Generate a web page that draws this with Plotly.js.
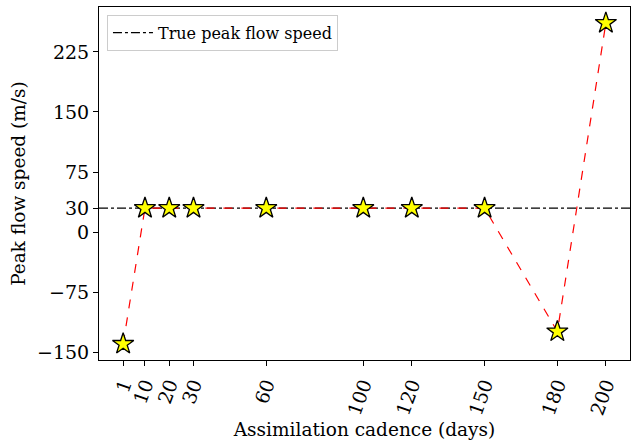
<!DOCTYPE html>
<html>
<head>
<meta charset="utf-8">
<script src="https://cdn.plot.ly/plotly-3.0.1.min.js"></script>
<style>
  html, body { margin: 0; padding: 0; background: #fff; }
  #chart { width: 631px; height: 443px; }
</style>
</head>
<body>
<div id="chart"></div>
<script>
// Assimilation cadence (days) and the recovered peak flow speed (m/s)
const cadenceDays = [1, 10, 20, 30, 60, 100, 120, 150, 180, 200];
const peakSpeed = [-139.5, 30, 30, 30, 30, 30, 30, 30, -124, 261];
const truePeakSpeed = 30;

const xTicks = [1, 10, 20, 30, 60, 100, 120, 150, 180, 200];
const yTicks = [-150, -75, 0, 30, 75, 150, 225];

// 5% padding around the data, as in a default matplotlib axes
function padded(vals) {
  const lo = Math.min(...vals), hi = Math.max(...vals);
  const m = (hi - lo) * 0.05;
  return [lo - m, hi + m];
}

const serif = 'DejaVu Serif, serif';

const traces = [
  {
    // legend entry for the reference line (drawn as a shape below)
    x: [null], y: [null],
    mode: 'lines',
    name: 'True peak flow speed',
    line: { color: 'black', width: 1.2, dash: 'dashdot' },
    showlegend: true,
    hoverinfo: 'skip'
  },
  {
    x: cadenceDays,
    y: peakSpeed,
    mode: 'lines+markers',
    line: { color: 'red', width: 1.2, dash: 'dash' },
    marker: { symbol: 'star', size: 16, color: 'yellow', line: { color: 'black', width: 1.3 } },
    showlegend: false
  }
];

const layout = {
  width: 631, height: 443,
  margin: { l: 99, r: 1, t: 7, b: 83 },
  paper_bgcolor: 'white',
  plot_bgcolor: 'white',
  font: { family: serif, color: 'black' },
  showlegend: true,
  legend: {
    x: 0.015, y: 0.978, xanchor: 'left', yanchor: 'top',
    itemwidth: 40,
    bgcolor: 'rgba(255,255,255,0.8)',
    bordercolor: '#cccccc', borderwidth: 1,
    font: { family: serif, size: 16, color: 'black' }
  },
  xaxis: {
    range: padded(cadenceDays),
    tickmode: 'array',
    tickvals: xTicks,
    ticktext: xTicks.map(String),
    tickangle: -70,
    ticks: 'outside', ticklen: 5, tickwidth: 1, tickcolor: 'black',
    tickfont: { family: serif, size: 19, color: 'black' },
    showgrid: false, zeroline: false,
    showline: true, mirror: true, linecolor: 'black', linewidth: 1,
    title: { text: 'Assimilation cadence (days)', font: { family: serif, size: 18.5, color: 'black' }, standoff: 6 }
  },
  yaxis: {
    range: padded(peakSpeed),
    tickmode: 'array',
    tickvals: yTicks,
    ticktext: yTicks.map(v => v < 0 ? '\u2212' + Math.abs(v) : String(v)),
    ticks: 'outside', ticklen: 5, tickwidth: 1, tickcolor: 'black',
    tickfont: { family: serif, size: 19, color: 'black' },
    showgrid: false, zeroline: false,
    showline: true, mirror: true, linecolor: 'black', linewidth: 1,
    title: { text: 'Peak flow speed (m/s)', font: { family: serif, size: 18.5, color: 'black' }, standoff: 6 }
  },
  shapes: [{
    type: 'line', xref: 'paper', yref: 'y',
    x0: 0, x1: 1, y0: truePeakSpeed, y1: truePeakSpeed,
    line: { color: 'black', width: 1.2, dash: 'dashdot' },
    layer: 'below'
  }]
};

Plotly.newPlot('chart', traces, layout, { displayModeBar: false, staticPlot: true });
</script>
</body>
</html>
